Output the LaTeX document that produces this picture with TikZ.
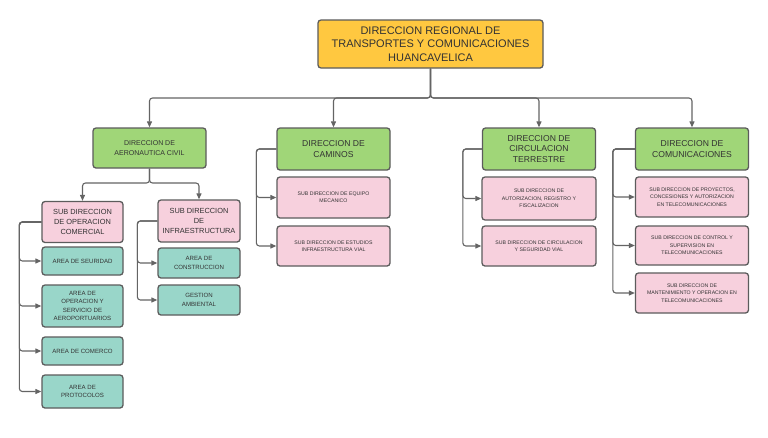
\documentclass[tikz,border=0pt]{standalone}
\usepackage{fontspec}
\setmainfont{Liberation Sans}
\usetikzlibrary{arrows.meta,positioning,calc}
\definecolor{DrtGold}{RGB}{255,200,64}
\definecolor{DrtGreen}{RGB}{160,214,120}
\definecolor{DrtPink}{RGB}{247,208,221}
\definecolor{DrtTeal}{RGB}{153,214,201}
\definecolor{DrtEdge}{RGB}{92,92,92}
\definecolor{DrtLine}{RGB}{100,100,100}
\definecolor{DrtText}{RGB}{51,51,51}
\tikzset{
  drt/base/.style={
    draw=DrtEdge,
    line width=1.3pt,
    rounded corners=3pt,
    align=center,
    text=DrtText,
    inner sep=2pt
  },
  drt/top/.style={
    drt/base,
    fill=DrtGold,
    minimum width=225pt,
    minimum height=48pt,
    font=\fontsize{11}{13.5}\selectfont
  },
  drt/dir/.style={
    drt/base,
    fill=DrtGreen,
    minimum width=113pt,
    minimum height=42pt,
    font=\fontsize{8.6}{10.6}\selectfont
  },
  drt/sub/.style={
    drt/base,
    fill=DrtPink,
    minimum width=113pt,
    minimum height=40pt,
    font=\fontsize{5.2}{7.4}\selectfont
  },
  drt/midsub/.style={
    drt/base,
    fill=DrtPink,
    minimum width=81pt,
    minimum height=41pt,
    font=\fontsize{7.4}{9.6}\selectfont
  },
  drt/area/.style={
    drt/base,
    fill=DrtTeal,
    minimum width=81pt,
    minimum height=29pt,
    font=\fontsize{6.1}{8.6}\selectfont
  },
  drt/arrow/.style={-{Triangle[length=6pt,width=5pt]}, line width=1.1pt, draw=DrtLine, rounded corners=3pt}
}
\begin{document}
\begin{tikzpicture}[x=1pt,y=-1pt]
  \useasboundingbox[fill=white] (0,0) rectangle (768,437);
  % head
  \node[drt/top] (head) at (430.5,44) {DIRECCION REGIONAL DE\\TRANSPORTES Y COMUNICACIONES\\HUANCAVELICA};
  \coordinate (headbus) at (430.5,98);
  % direcciones
  \node[drt/dir,minimum height=40pt,font=\fontsize{7}{9.4}\selectfont] (aero) at (149.5,148) {DIRECCION DE\\AERONAUTICA CIVIL};
  \node[drt/dir] (caminos) at (333.5,149) {DIRECCION DE\\CAMINOS};
  \node[drt/dir] (circ) at (539,149) {DIRECCION DE\\CIRCULACION\\TERRESTRE};
  \node[drt/dir] (comu) at (692,149) {DIRECCION DE\\COMUNICACIONES};
  \draw[drt/arrow] (head.south) -- (headbus) -| (aero.north);
  \draw[drt/arrow] (head.south) -- (headbus) -| (caminos.north);
  \draw[drt/arrow] (head.south) -- (headbus) -| (circ.north);
  \draw[drt/arrow] (head.south) -- (headbus) -| (comu.north);
  % aeronautica civil
  \coordinate (aerobus) at (149.5,183);
  \node[drt/midsub] (opcom) at (82.5,222) {SUB DIRECCION\\DE OPERACION\\COMERCIAL};
  \node[drt/midsub,minimum width=82pt,minimum height=42pt] (infra) at (199,221) {SUB DIRECCION\\DE\\INFRAESTRUCTURA};
  \draw[drt/arrow] (aero.south) -- (aerobus) -| (opcom.north);
  \draw[drt/arrow] (aero.south) -- (aerobus) -| (infra.north);
  \node[drt/area,minimum height=28pt] (seguridad) at (82.5,261) {AREA DE SEURIDAD};
  \node[drt/area,minimum height=42pt] (aeroport) at (82.5,306) {AREA DE\\OPERACION Y\\SERVICIO DE\\AEROPORTUARIOS};
  \node[drt/area,minimum height=28pt] (comerco) at (82.5,351) {AREA DE COMERCO};
  \node[drt/area,minimum height=33pt] (protocolos) at (82.5,391.5) {AREA DE\\PROTOCOLOS};
  \foreach \a in {seguridad,aeroport,comerco,protocolos}
    \draw[drt/arrow] (opcom.west) -- ++(-22,0) |- (\a.west);
  \node[drt/area,minimum width=82pt,minimum height=30pt] (constr) at (199,263) {AREA DE\\CONSTRUCCION};
  \node[drt/area,minimum width=82pt,minimum height=30pt] (ambiental) at (199,300) {GESTION\\AMBIENTAL};
  \foreach \a in {constr,ambiental}
    \draw[drt/arrow] (infra.west) -- ++(-20,0) |- (\a.west);
  % caminos
  \node[drt/sub,minimum height=41pt] (equipo) at (333.5,197.5) {SUB DIRECCION DE EQUIPO\\MECANICO};
  \node[drt/sub] (estudios) at (333.5,246) {SUB DIRECCION DE ESTUDIOS\\INFRAESTRUCTURA VIAL};
  \foreach \a in {equipo,estudios}
    \draw[drt/arrow] (caminos.west) -- ++(-20,0) |- (\a.west);
  % circulacion terrestre
  \node[drt/sub,minimum width=114pt,minimum height=43pt] (fiscal) at (539,198.5) {SUB DIRECCION DE\\AUTORIZACION, REGISTRO Y\\FISCALIZACION};
  \node[drt/sub,minimum width=114pt] (segvial) at (539,246) {SUB DIRECCION DE CIRCULACION\\Y SEGURIDAD VIAL};
  \foreach \a in {fiscal,segvial}
    \draw[drt/arrow] (circ.west) -- ++(-19,0) |- (\a.west);
  % comunicaciones
  \node[drt/sub] (proyectos) at (692,197) {SUB DIRECCION DE PROYECTOS,\\CONCESIONES Y AUTORIZACION\\EN TELECOMUNICACIONES};
  \node[drt/sub,minimum height=39pt] (control) at (692,245.5) {SUB DIRECCION DE CONTROL Y\\SUPERVISION EN\\TELECOMUNICACIONES};
  \node[drt/sub] (mant) at (692,293) {SUB DIRECCION DE\\MANTENIMIENTO Y OPERACION EN\\TELECOMUNICACIONES};
  \foreach \a in {proyectos,control,mant}
    \draw[drt/arrow] (comu.west) -- ++(-22,0) |- (\a.west);
\end{tikzpicture}
\end{document}
